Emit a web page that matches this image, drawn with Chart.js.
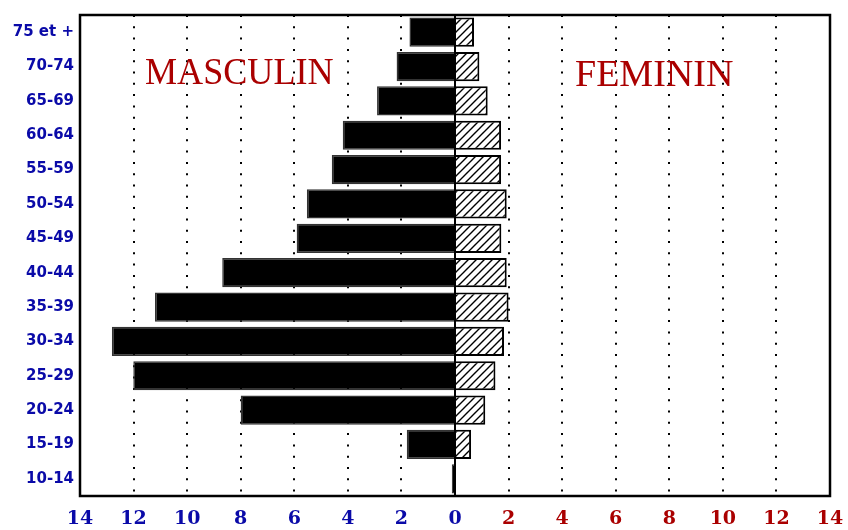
<!DOCTYPE html>
<html>
<head>
<meta charset="utf-8">
<script src="https://cdn.jsdelivr.net/npm/chart.js@4"></script>
<style>
  html, body { margin: 0; padding: 0; background: #fff; }
  #wrap { width: 848px; height: 530px; }
</style>
</head>
<body>
<div id="wrap"><canvas id="pyramid" width="848" height="530"></canvas></div>
<script>
// Age groups, top row first
const ageGroups = ['75 et +', '70-74', '65-69', '60-64', '55-59', '50-54', '45-49',
                   '40-44', '35-39', '30-34', '25-29', '20-24', '15-19', '10-14'];
// Percentages
const maleValues   = [1.70, 2.18, 2.91, 4.19, 4.60, 5.53, 5.91, 8.69, 11.20, 12.81, 12.01, 8.00, 1.80, 0.12];
const femaleValues = [0.71, 0.91, 1.22, 1.72, 1.72, 1.93, 1.73, 1.93, 2.00, 1.83, 1.51, 1.13, 0.60, 0];
const xTicks = [-14, -12, -10, -8, -6, -4, -2, 0, 2, 4, 6, 8, 10, 12, 14];

const BLUE = '#0a0aa8';
const RED = '#aa0000';

// diagonal hatch for the female bars
function makeHatch() {
    const c = document.createElement('canvas');
    c.width = 8; c.height = 8;
    const g = c.getContext('2d');
    g.fillStyle = '#fff';
    g.fillRect(0, 0, 8, 8);
    g.strokeStyle = '#000';
    g.lineWidth = 1.4;
    g.beginPath();
    g.moveTo(-2, 10); g.lineTo(10, -2);
    g.moveTo(-2, 2); g.lineTo(2, -2);
    g.moveTo(6, 10); g.lineTo(10, 6);
    g.stroke();
    return g.createPattern(c, 'repeat');
}

// frame, zero line and the two big labels
const decorations = {
    id: 'decorations',
    afterDatasetsDraw(chart) {
        const {ctx, chartArea: a, scales} = chart;
        const x0 = scales.x.getPixelForValue(0);
        ctx.save();
        ctx.strokeStyle = '#000';
        ctx.lineWidth = 2;
        ctx.beginPath();
        ctx.moveTo(x0, a.top);
        ctx.lineTo(x0, a.bottom);
        ctx.stroke();
        ctx.lineWidth = 2.5;
        ctx.strokeRect(a.left, a.top, a.right - a.left, a.bottom - a.top);

        ctx.fillStyle = RED;
        ctx.font = '38px "Liberation Serif"';
        ctx.textBaseline = 'alphabetic';
        ctx.textAlign = 'left';
        ctx.save();
        ctx.translate(145, 84);
        ctx.scale(0.95, 1);
        ctx.fillText('MASCULIN', 0, 0);
        ctx.restore();
        ctx.fillText('FEMININ', 575, 86);
        ctx.restore();
    }
};

const ctx = document.getElementById('pyramid').getContext('2d');
new Chart(ctx, {
    type: 'bar',
    data: {
        labels: ageGroups,
        datasets: [{
            label: 'Masculin',
            data: maleValues.map(v => -v),
            backgroundColor: '#000',
            borderColor: '#333',
            borderWidth: 1.5,
            barPercentage: 0.85,
            categoryPercentage: 1
        }, {
            label: 'Feminin',
            data: femaleValues,
            backgroundColor: makeHatch(),
            borderColor: '#000',
            borderWidth: 2,
            barPercentage: 0.85,
            categoryPercentage: 1
        }]
    },
    options: {
        indexAxis: 'y',
        responsive: false,
        animation: false,
        layout: {padding: {top: 13, right: 18, left: 0, bottom: 0}},
        plugins: {legend: {display: false}, tooltip: {enabled: false}},
        scales: {
            x: {
                stacked: true,
                min: -14,
                max: 14,
                afterBuildTicks: scale => { scale.ticks = xTicks.map(v => ({value: v})); },
                afterFit: scale => {
                    scale.height = 34;
                    scale.paddingLeft = 0;
                    scale.paddingRight = 0;
                },
                grid: {
                    drawTicks: false,
                    lineWidth: 2,
                    color: c => (c.tick && Math.abs(c.tick.value) % 14 !== 0) ? '#000' : 'rgba(0,0,0,0)'
                },
                border: {display: false, dash: [2, 9.3]},
                ticks: {
                    padding: 12,
                    maxRotation: 0,
                    autoSkip: false,
                    font: {family: '"DejaVu Serif"', size: 19, weight: 'bold'},
                    color: c => c.tick.value <= 0 ? BLUE : RED,
                    callback: v => Math.abs(v)
                }
            },
            y: {
                stacked: true,
                afterFit: scale => { scale.width = 80; },
                grid: {display: false, drawTicks: false},
                border: {display: false},
                ticks: {
                    padding: 6,
                    font: {family: '"DejaVu Sans"', size: 15, weight: 'bold'},
                    color: BLUE
                }
            }
        }
    },
    plugins: [decorations]
});
</script>
</body>
</html>
